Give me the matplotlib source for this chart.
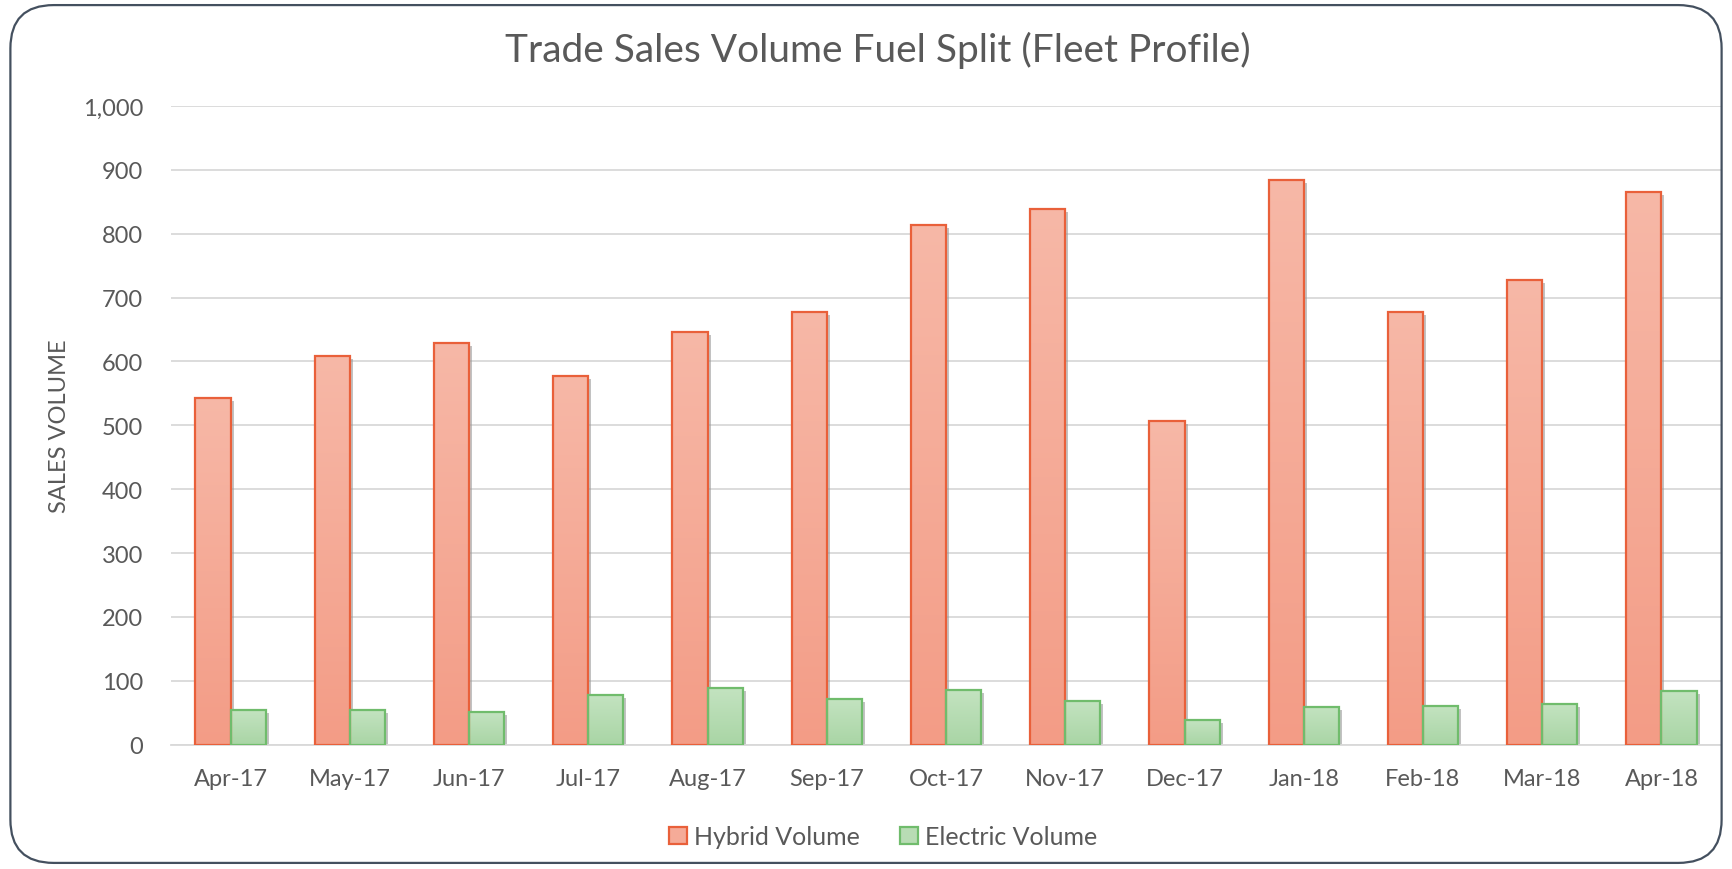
import matplotlib
matplotlib.use("Agg")
import matplotlib.pyplot as plt
import numpy as np
from matplotlib.patches import FancyBboxPatch, Rectangle
from matplotlib.ticker import FuncFormatter

months = ["Apr-17", "May-17", "Jun-17", "Jul-17", "Aug-17", "Sep-17", "Oct-17",
          "Nov-17", "Dec-17", "Jan-18", "Feb-18", "Mar-18", "Apr-18"]
hybrid = [542, 608, 629, 577, 646, 678, 814, 838, 507, 884, 678, 727, 865]
electric = [54, 54, 51, 77, 89, 71, 86, 68, 38, 59, 60, 63, 84]
series_names = ["Hybrid Volume", "Electric Volume"]
yticks = [0, 100, 200, 300, 400, 500, 600, 700, 800, 900, 1000]

plt.rcParams['font.family'] = ['Lato', 'DejaVu Sans']
TXT = "#595959"

fig = plt.figure(figsize=(17.32, 8.70), dpi=100)
fig.patch.set_facecolor("white")

# outer rounded border
border = FancyBboxPatch((0.006, 0.007), 0.988, 0.986,
                        boxstyle="round,pad=0,rounding_size=0.025",
                        transform=fig.transFigure, facecolor="none",
                        edgecolor="#44505f", linewidth=1.6, mutation_aspect=1.99)
fig.patches.append(border)

ax = fig.add_axes([0.0987, 0.143, 0.895, 0.734])
x = np.arange(len(months))
w = 0.295

def grad_bars(xpos, vals, top_col, bot_col, edge):
    bars = ax.bar(xpos, vals, width=w, color="none", edgecolor=edge,
                  linewidth=1.6, zorder=3)
    grad = np.linspace(0, 1, 256).reshape(-1, 1)
    top = np.array(matplotlib.colors.to_rgb(top_col))
    bot = np.array(matplotlib.colors.to_rgb(bot_col))
    img = top[None, None, :] * (1 - grad[:, :, None]) + bot[None, None, :] * grad[:, :, None]
    for b in bars:
        x0, y0 = b.get_x(), b.get_y()
        bw, bh = b.get_width(), b.get_height()
        sh = Rectangle((x0, y0), bw, bh, facecolor="#9a9a9a", edgecolor="none",
                       alpha=0.6, zorder=2)
        sh.set_transform(ax.transData + matplotlib.transforms.ScaledTranslation(3/100, -3/100, fig.dpi_scale_trans))
        ax.add_patch(sh)
        im = ax.imshow(img, extent=[x0, x0 + bw, y0, y0 + bh], aspect="auto",
                       zorder=2.5, origin="upper")
        im.set_clip_path(b)
    return bars

b1 = grad_bars(x - w / 2, hybrid, "#F7B8A7", "#F39C86", "#E9603A")
b2 = grad_bars(x + w / 2, electric, "#C3E3C0", "#A9D5A5", "#70BC6C")

ax.set_xlim(-0.5, len(months) - 0.5)
ax.set_ylim(0, 1000)
ax.set_yticks(yticks)
ax.yaxis.set_major_formatter(FuncFormatter(lambda v, p: f"{int(v):,}"))
ax.set_xticks(x)
ax.set_xticklabels(months)
ax.grid(axis="y", color="#d9d9d9", linewidth=1.3, zorder=0)
ax.set_axisbelow(True)
for s in ["top", "right", "left"]:
    ax.spines[s].set_visible(False)
ax.spines["bottom"].set_color("#d9d9d9")
ax.spines["bottom"].set_linewidth(1.3)
ax.tick_params(axis="both", length=0, labelsize=17, labelcolor=TXT)
ax.tick_params(axis="x", pad=17)
ax.tick_params(axis="y", pad=20)
ax.set_ylabel("SALES VOLUME", fontsize=17, color=TXT, labelpad=9)

fig.text(0.507, 0.942, "Trade Sales Volume Fuel Split (Fleet Profile)",
         ha="center", va="center", fontsize=28, color=TXT)

h1 = Rectangle((0, 0), 1, 1, facecolor="#F5AB98", edgecolor="#E9603A", linewidth=1.6)
h2 = Rectangle((0, 0), 1, 1, facecolor="#B8DCB4", edgecolor="#70BC6C", linewidth=1.6)
leg = fig.legend([h1, h2], series_names, loc="center", bbox_to_anchor=(0.51, 0.037),
                 ncol=2, frameon=False, fontsize=18, handlelength=0.7, handleheight=0.7,
                 handletextpad=0.3, columnspacing=1.6)
for t in leg.get_texts():
    t.set_color(TXT)

fig.savefig("out.png", dpi=100, facecolor="white")
